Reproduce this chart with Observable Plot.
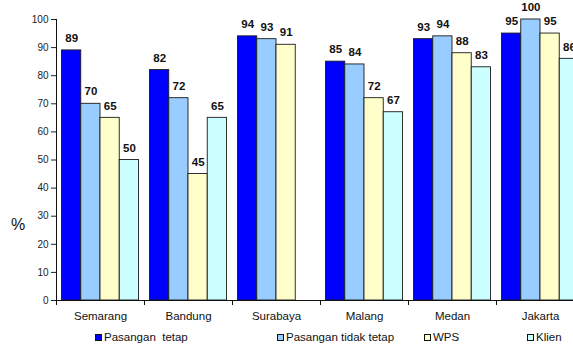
<!DOCTYPE html>
<html>
<head>
<meta charset="utf-8">
<script src="https://cdn.jsdelivr.net/npm/d3@7"></script>
<script src="https://cdn.jsdelivr.net/npm/@observablehq/plot@0.6"></script>
<style>
  html, body { margin: 0; padding: 0; background: #fff; overflow: hidden; }
  #wrap { position: relative; width: 573px; height: 344px; overflow: hidden; font-family: "Liberation Sans", Arial, sans-serif; }
  #chart svg { max-width: none !important; }
  #pct { position: absolute; left: 11px; top: 216px; font-size: 16px; color: #111; }
  #legend { position: absolute; left: 0; top: 330px; width: 573px; height: 14px; font-size: 11.5px; color: #111; }
  .item { position: absolute; top: 0; white-space: pre; line-height: 14px; }
  .sw { display: inline-block; width: 7px; height: 7px; border: 1px solid #111; margin-right: 2px; vertical-align: 0px; box-sizing: border-box; }
</style>
</head>
<body>
<div id="wrap">
  <div id="chart"></div>
  <div id="pct">%</div>
  <div id="legend"></div>
</div>
<script>
const cities = ["Semarang", "Bandung", "Surabaya", "Malang", "Medan", "Jakarta"];
const seriesNames = ["Pasangan  tetap", "Pasangan tidak tetap", "WPS", "Klien"];
const pasanganTetap = [89, 82, 94, 85, 93, 95];
const pasanganTidakTetap = [70, 72, 93, 84, 94, 100];
const wps = [65, 45, 91, 72, 88, 95];
const klien = [50, 65, null, 67, 83, 86];
const yTicks = [0, 10, 20, 30, 40, 50, 60, 70, 80, 90, 100];
const colors = ["#0000FF", "#99CCFF", "#FFFFCC", "#CCFFFF"];

const seriesValues = [pasanganTetap, pasanganTidakTetap, wps, klien];
const groupPad = 0.0625;
const barW = (1 - 2 * groupPad) / seriesNames.length;

const data = [];
cities.forEach((c, ci) => {
  seriesValues.forEach((vals, si) => {
    if (vals[ci] == null) return;
    const x1 = ci + groupPad + si * barW;
    data.push({city: c, series: seriesNames[si], value: vals[ci], x1, x2: x1 + barW, xm: x1 + barW / 2});
  });
});

const font = "Liberation Sans, Arial, sans-serif";

const chart = Plot.plot({
  width: 590,
  height: 330,
  marginLeft: 56,
  marginRight: 6,
  marginTop: 19,
  marginBottom: 30,
  style: {fontFamily: font, background: "#fff", overflow: "visible", maxWidth: "none"},
  x: {domain: [0, cities.length], axis: null},
  y: {domain: [0, 100], axis: null},
  color: {domain: seriesNames, range: colors},
  marks: [
    Plot.rectY(data, {x1: "x1", x2: "x2", y: "value", fill: "series", stroke: "#1a1a1a", strokeWidth: 0.9}),
    Plot.text(data, {x: "xm", y: "value", text: d => String(d.value), dy: -12, fontSize: 11.5, fontWeight: "bold", fill: "#111"}),
    Plot.ruleX([0], {stroke: "#111"}),
    Plot.ruleY([0], {stroke: "#111"}),
    Plot.axisY({ticks: yTicks, tickSize: 5, tickPadding: 3, fontSize: 10, color: "#222", label: null}),
    Plot.axisX({ticks: d3.range(0, cities.length + 1), tickSize: 5, tickFormat: () => "", label: null, color: "#111"}),
    Plot.axisX({ticks: cities.map((c, i) => i + 0.5), tickSize: 0, tickPadding: 11, tickFormat: v => cities[Math.floor(v)], fontSize: 11.5, color: "#111", label: null})
  ]
});
document.getElementById("chart").appendChild(chart);

const legendX = [95, 277, 424, 527];
const legend = document.getElementById("legend");
seriesNames.forEach((s, i) => {
  const it = document.createElement("div");
  it.className = "item";
  it.style.left = legendX[i] + "px";
  const sw = document.createElement("span");
  sw.className = "sw";
  sw.style.background = colors[i];
  it.appendChild(sw);
  it.appendChild(document.createTextNode(s));
  legend.appendChild(it);
});
</script>
</body>
</html>
